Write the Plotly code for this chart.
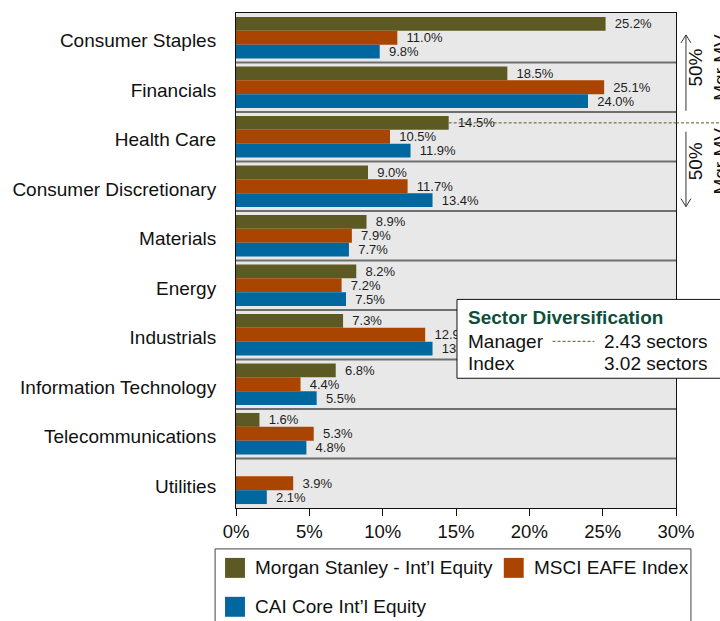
import plotly.graph_objects as go

# ---- data -------------------------------------------------------------
categories = [
    "Consumer Staples", "Financials", "Health Care", "Consumer Discretionary",
    "Materials", "Energy", "Industrials", "Information Technology",
    "Telecommunications", "Utilities",
]
manager = [25.2, 18.5, 14.5, 9.0, 8.9, 8.2, 7.3, 6.8, 1.6, 0.0]
msci_eafe = [11.0, 25.1, 10.5, 11.7, 7.9, 7.2, 12.9, 4.4, 5.3, 3.9]
cai_core = [9.8, 24.0, 11.9, 13.4, 7.7, 7.5, 13.4, 5.5, 4.8, 2.1]

series_names = ["Morgan Stanley - Int\u2019l Equity", "MSCI EAFE Index", "CAI Core Int\u2019l Equity"]
series_values = [manager, msci_eafe, cai_core]
series_colors = ["#5c5a22", "#a94500", "#00679f"]

x_ticks = [0, 5, 10, 15, 20, 25, 30]
x_tick_labels = [f"{t}%" for t in x_ticks]

diversification_title = "Sector Diversification"
diversification_rows = [("Manager", "2.43 sectors"), ("Index", "3.02 sectors")]
half_label = "50%<br>Mgr MV"

# ---- geometry ---------------------------------------------------------
W, H = 720, 621
ML, MR, MT, MB = 234, 44, 12, 113
PW, PH = W - ML - MR, H - MT - MB
BARGAP = 0.16
FONT = "Liberation Sans, Arial, sans-serif"
DASH = "3px,2px"


def fx(px):
    """pixel x -> paper x"""
    return (px - ML) / PW


def fy(py):
    """pixel y -> paper y"""
    return (H - MB - py) / PH


fig = go.Figure()
for name, vals, color in zip(series_names, series_values, series_colors):
    fig.add_trace(go.Bar(
        y=categories, x=vals, orientation="h", name=name,
        marker=dict(color=color, line=dict(width=0)),
        text=[("\u00a0\u2009" + f"{v:.1f}%") if v > 0 else "" for v in vals],
        textposition="outside", cliponaxis=False, constraintext="none",
        textfont=dict(size=13, color="#1e1e1e", family=FONT),
        showlegend=False,
    ))

shapes = []
# band separators between sectors
for i in range(len(categories) - 1):
    shapes.append(dict(type="line", xref="x", yref="y",
                       x0=x_ticks[0], x1=x_ticks[-1], y0=i + 0.5, y1=i + 0.5,
                       line=dict(color="#6e6e6e", width=2)))

# sector where the manager's cumulative weight passes 50%
cum, k = 0.0, 0
for k, v in enumerate(manager):
    cum += v
    if cum >= 50:
        break
bar_w = (1 - BARGAP) / len(series_values)
y_half = k - bar_w
shapes.append(dict(type="line", xref="x", yref="y", x0=manager[k], x1=x_ticks[-1],
                   y0=y_half, y1=y_half, line=dict(color="#5c5a22", width=1, dash=DASH)))
shapes.append(dict(type="line", xref="paper", yref="y", x0=1, x1=1.2,
                   y0=y_half, y1=y_half, line=dict(color="#5c5a22", width=1, dash=DASH)))

# arrows in the right margin
ax_px = 686
for y_tail, y_tip in [(110, 34), (131, 206)]:
    d = 8 if y_tip < y_tail else -8
    shapes.append(dict(type="line", xref="paper", yref="paper", x0=fx(ax_px), x1=fx(ax_px),
                       y0=fy(y_tail), y1=fy(y_tip), line=dict(color="#333333", width=1)))
    for side in (-5, 5):
        shapes.append(dict(type="line", xref="paper", yref="paper",
                           x0=fx(ax_px), x1=fx(ax_px + side), y0=fy(y_tip), y1=fy(y_tip + d),
                           line=dict(color="#333333", width=1)))

# diversification box
shapes.append(dict(type="rect", xref="paper", yref="paper",
                   x0=fx(456), x1=fx(730), y0=fy(378), y1=fy(299),
                   fillcolor="white", line=dict(color="#111111", width=1)))
shapes.append(dict(type="line", xref="paper", yref="paper", x0=fx(552), x1=fx(594),
                   y0=fy(341), y1=fy(341), line=dict(color="#5c5a22", width=1, dash=DASH)))

# legend box and swatches
shapes.append(dict(type="rect", xref="paper", yref="paper",
                   x0=fx(213), x1=fx(691), y0=fy(640), y1=fy(549),
                   fillcolor="white", line=dict(color="#444444", width=1)))
legend_pos = [(223, 558), (503, 558), (223, 597)]
for (lx, ly), color in zip(legend_pos, series_colors):
    shapes.append(dict(type="rect", xref="paper", yref="paper",
                       x0=fx(lx), x1=fx(lx + 20), y0=fy(ly + 20), y1=fy(ly),
                       fillcolor=color, line=dict(width=0)))

annotations = []
for (lx, ly), name in zip(legend_pos, series_names):
    annotations.append(dict(xref="paper", yref="paper", x=fx(lx + 28), y=fy(ly + 10),
                            xanchor="left", yanchor="middle", text=name, showarrow=False,
                            font=dict(size=19, color="#111111", family=FONT)))

annotations.append(dict(xref="paper", yref="paper", x=fx(465), y=fy(317),
                        xanchor="left", yanchor="middle",
                        text=f"<b>{diversification_title}</b>", showarrow=False,
                        font=dict(size=19, color="#0d4f3c", family=FONT)))
for (label, value), py in zip(diversification_rows, [341, 363]):
    annotations.append(dict(xref="paper", yref="paper", x=fx(465), y=fy(py),
                            xanchor="left", yanchor="middle", text=label, showarrow=False,
                            font=dict(size=19, color="#111111", family=FONT)))
    annotations.append(dict(xref="paper", yref="paper", x=fx(602), y=fy(py),
                            xanchor="left", yanchor="middle", text=value, showarrow=False,
                            font=dict(size=19, color="#111111", family=FONT)))

for py in (66, 160):
    annotations.append(dict(xref="paper", yref="paper", x=fx(708), y=fy(py),
                            xanchor="center", yanchor="middle", text=half_label,
                            textangle=-90, showarrow=False,
                            font=dict(size=19, color="#111111", family=FONT)))

fig.update_layout(
    width=W, height=H,
    margin=dict(l=ML, r=MR, t=MT, b=MB),
    paper_bgcolor="white", plot_bgcolor="#e8e8e8",
    barmode="group", bargap=BARGAP, bargroupgap=0,
    font=dict(family=FONT, color="#111111"),
    shapes=shapes, annotations=annotations,
    showlegend=False,
)
fig.update_xaxes(range=[x_ticks[0], x_ticks[-1]], tickvals=x_ticks, ticktext=x_tick_labels,
                 ticks="outside", ticklen=7, tickcolor="#111111", showgrid=False,
                 zeroline=False, showline=True, linecolor="#111111", linewidth=1, mirror=True,
                 tickfont=dict(size=18.5, color="#111111"))
fig.update_yaxes(categoryorder="array", categoryarray=categories, autorange="reversed",
                 showgrid=False, zeroline=False, showline=True, linecolor="#111111",
                 linewidth=1, mirror=True, ticks="", ticklabelstandoff=15,
                 ticklabelshift=-3,
                 tickfont=dict(size=19, color="#111111"))

fig.write_html("out.html")
